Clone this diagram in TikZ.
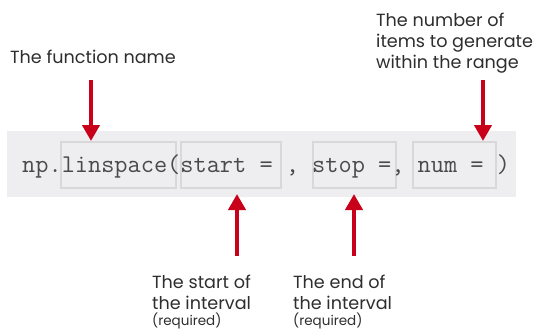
\documentclass[tikz,border=0pt]{standalone}
\usepackage{fontspec}
\setmainfont{Poppins}
\usetikzlibrary{arrows.meta}
\definecolor{arrred}{HTML}{C8001A}
\definecolor{bandgray}{HTML}{EEEDEF}
\definecolor{boxgray}{HTML}{D8D8D8}
\definecolor{codegray}{HTML}{4A4A4A}
\definecolor{labelgray}{HTML}{2E2E2E}
\begin{document}
\begin{tikzpicture}[x=1pt,y=-1pt,
  box/.style={draw=boxgray, line width=2pt, inner sep=0pt, minimum height=46pt, anchor=north west},
  arr/.style={draw=arrred, line width=4pt, -{Triangle[width=17pt,length=16pt]}},
  lbl/.style={text=labelgray, font=\fontsize{17.6}{21}\selectfont, align=left, anchor=north west, inner sep=0pt}]
\useasboundingbox (0,0) rectangle (536,329);
\fill[white] (0,0) rectangle (536,329);
\node[fill=bandgray, minimum width=509pt, minimum height=66pt, inner sep=0pt, anchor=north west] (band) at (7,131) {};
\node[box, minimum width=115pt] (lin) at (60,141) {};
\node[box, minimum width=100pt] (start) at (180,141) {};
\node[box, minimum width=83pt] (stop) at (312,141) {};
\node[box, minimum width=83pt] (num) at (412,141) {};
\node[anchor=base west, inner sep=0pt, font=\fontsize{25.6}{30}\selectfont\ttfamily, text=codegray] (code) at (22,172) {np.linspace(start = , stop =, num = )};
\node[lbl] (fn) at (10,50) {The function name};
\node[lbl] (nm) at (376,13) {The number of\\items to generate\\within the range};
\node[lbl] (st) at (152,275) {The start of\\the interval\\[-5pt]{\fontsize{13.5}{15}\selectfont(required)}};
\node[lbl] (en) at (293,275) {The end of\\the interval\\[-5pt]{\fontsize{13.5}{15}\selectfont(required)}};
\coordinate (fa) at (91,80);
\coordinate (na) at (483,80);
\coordinate (sa) at (237,256);
\coordinate (ea) at (354,256);
\coordinate (tipline) at ([yshift=-5pt]start.south);
\draw[arr] (fa) -- (fa |- lin.north);
\draw[arr] (na) -- (na |- num.north);
\draw[arr] (sa) -- (sa |- tipline);
\draw[arr] (ea) -- (ea |- tipline);
\end{tikzpicture}
\end{document}
